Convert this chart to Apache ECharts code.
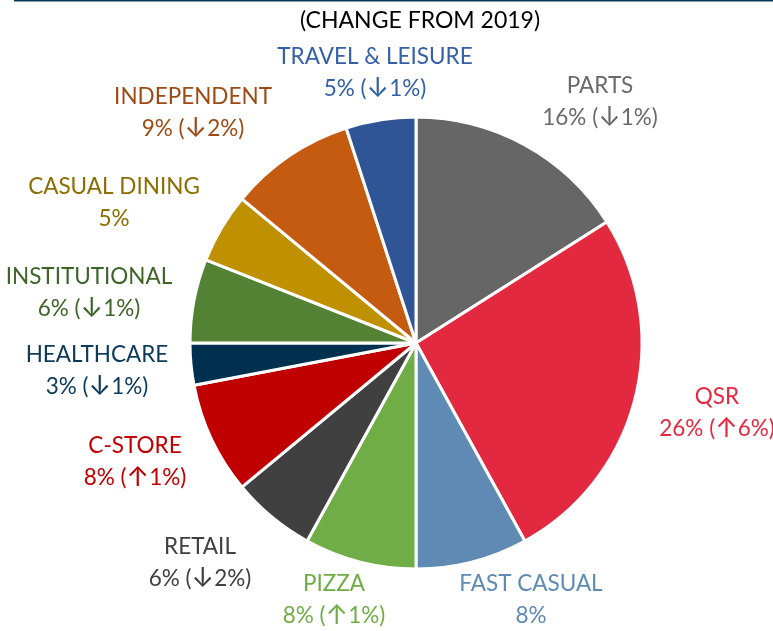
<!DOCTYPE html>
<html>
<head>
<meta charset="utf-8">
<script src="https://cdn.jsdelivr.net/npm/echarts@6/dist/echarts.min.js"></script>
<style>html,body{margin:0;padding:0;background:#fff}#c{width:773px;height:631px}</style>
</head>
<body>
<div id="c"></div>
<script>
const categories = ['PARTS','QSR','FAST CASUAL','PIZZA','RETAIL','C-STORE','HEALTHCARE','INSTITUTIONAL','CASUAL DINING','INDEPENDENT','TRAVEL & LEISURE'];
const shares = [16, 26, 8, 8, 6, 8, 3, 6, 5, 9, 5];
const changeArrows = ['↓', '↑', '', '↑', '↓', '↑', '↓', '↓', '', '↓', '↓'];
const changeValues = [1, 6, null, 1, 2, 1, 1, 1, null, 2, 1];
const sliceColors = ['#666666','#E3293F','#5E8AB4','#70AD47','#404040','#C00000','#00304F','#548235','#BF9000','#C55A11','#2F5597'];
const labelColors = ['#6A6A6A','#E3293F','#5E8AB4','#70AD47','#404040','#C00000','#0B3A5A','#3F6429','#8C6D00','#9E4A14','#3560A6'];
// label block centres (layout only)
const labelPos = [[600,102],[717,413],[531,600],[334,600],[200,563],[135,462],[97,371],[89,293],[114,203],[193,113],[375,73]];

const chart = echarts.init(document.getElementById('c'), null, {renderer:'canvas'});
const data = categories.map((c,i)=>({
  name:c, value:shares[i],
  itemStyle:{color:sliceColors[i]},
  label:{color:labelColors[i],
    rich:{
      t:{fontFamily:'Lato',fontSize:22.5,lineHeight:32,color:labelColors[i]},
      a:{fontFamily:'Inter',fontSize:27,lineHeight:32,color:labelColors[i]}
    }}
}));
chart.setOption({
  animation:false,
  title:{text:'(CHANGE FROM 2019)', left:415, top:4, textAlign:'center',
    textStyle:{fontFamily:'Lato',fontSize:23,fontWeight:'normal',color:'#000'}},
  graphic:[{type:'line',shape:{x1:14,y1:0.5,x2:773,y2:0.5},style:{stroke:'#0A3A5A',lineWidth:2}}],
  series:[{
    type:'pie', center:[416,343], radius:[0,226], startAngle:90, clockwise:true,
    data:data,
    itemStyle:{borderColor:'#fff',borderWidth:3},
    label:{show:true, position:'outside', fontFamily:'Lato', fontSize:22.5, lineHeight:32, align:'center',
      overflow:'none', width:300,
      formatter:p=>{const i=p.dataIndex;
        let s='{t|'+categories[i]+'}\n{t|'+shares[i]+'%';
        if(changeArrows[i]) s+=' (}{a|'+changeArrows[i]+'}{t|'+changeValues[i]+'%)}'; else s+='}';
        return s;}},
    labelLine:{show:false},
    labelLayout:function(params){const p=labelPos[params.dataIndex];return {x:p[0],y:p[1],align:'center',verticalAlign:'middle'};}
  }]
});
</script>
</body>
</html>
